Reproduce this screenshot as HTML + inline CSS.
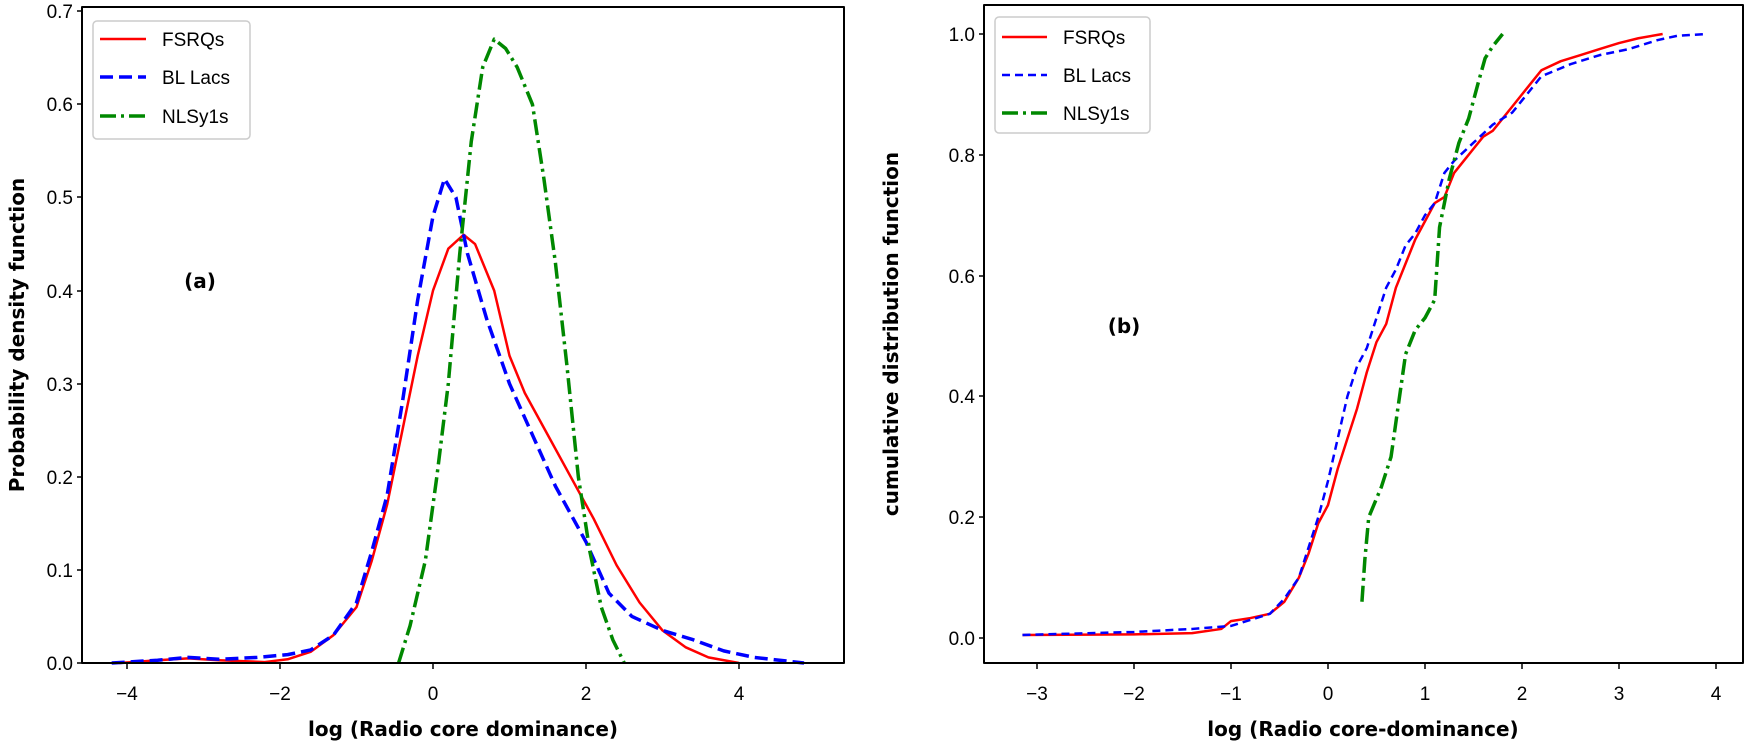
<!DOCTYPE html>
<html><head><style>
body{margin:0;background:#fff;}
svg{display:block;font-family:"Liberation Sans","DejaVu Sans",sans-serif;}
.t{font-size:19px;fill:#000;}
.b{font-size:20px;font-weight:bold;fill:#000;font-family:"DejaVu Sans","Liberation Sans",sans-serif;}
</style></head><body>
<svg width="1748" height="746" viewBox="0 0 1748 746" xmlns="http://www.w3.org/2000/svg">
<rect width="1748" height="746" fill="#fff"/>
<!-- LEFT PLOT -->
<g fill="none" stroke-linejoin="round">
 <g transform="translate(433,663) scale(76.5,-931)">
  <polyline vector-effect="non-scaling-stroke" stroke="#f00" stroke-width="2.5" points="-4.1,0 -3.6,0.003 -3.2,0.005 -2.8,0.003 -2.2,0.001 -1.9,0.004 -1.6,0.012 -1.3,0.03 -1,0.06 -0.8,0.11 -0.6,0.17 -0.4,0.25 -0.2,0.33 0,0.4 0.2,0.445 0.4,0.46 0.55,0.45 0.8,0.4 1.0,0.33 1.2,0.29 1.5,0.245 1.8,0.2 2.1,0.155 2.4,0.105 2.7,0.065 3.0,0.035 3.3,0.017 3.6,0.006 4.0,0"/>
  <polyline vector-effect="non-scaling-stroke" stroke="#00f" stroke-width="3.5" stroke-dasharray="13,6" points="-4.2,0 -3.6,0.003 -3.2,0.006 -2.8,0.004 -2.3,0.006 -1.9,0.009 -1.6,0.014 -1.3,0.03 -1,0.065 -0.8,0.12 -0.6,0.18 -0.4,0.28 -0.2,0.39 0,0.48 0.15,0.52 0.3,0.5 0.45,0.44 0.7,0.37 1.0,0.3 1.3,0.245 1.6,0.19 2.0,0.13 2.3,0.075 2.6,0.05 3.0,0.035 3.4,0.025 3.8,0.013 4.2,0.006 4.85,0"/>
  <polyline vector-effect="non-scaling-stroke" stroke="#080" stroke-width="3.5" stroke-dasharray="16,5,3,5" points="-0.45,0 -0.3,0.04 -0.1,0.11 0.05,0.2 0.2,0.3 0.35,0.44 0.5,0.56 0.65,0.64 0.8,0.67 0.95,0.66 1.1,0.64 1.3,0.6 1.45,0.52 1.6,0.43 1.75,0.32 1.9,0.2 2.05,0.12 2.2,0.06 2.35,0.025 2.5,0"/>
 </g>
 <rect x="82" y="7" width="762" height="656" stroke="#000" stroke-width="2"/>
 <rect x="93" y="21" width="157" height="118" rx="4" fill="#fff" stroke="#ccc" stroke-width="1.5"/>
 <line x1="100" y1="39" x2="146" y2="39" stroke="#f00" stroke-width="2.5"/>
 <line x1="100" y1="77" x2="146" y2="77" stroke="#00f" stroke-width="3.5" stroke-dasharray="13,6"/>
 <line x1="100" y1="116" x2="146" y2="116" stroke="#080" stroke-width="3.5" stroke-dasharray="16,5,3,5"/>
 <g stroke="#000" stroke-width="1.5">
  <line x1="77" y1="663" x2="82" y2="663"/><line x1="77" y1="570" x2="82" y2="570"/><line x1="77" y1="477" x2="82" y2="477"/><line x1="77" y1="384" x2="82" y2="384"/><line x1="77" y1="291" x2="82" y2="291"/><line x1="77" y1="197" x2="82" y2="197"/><line x1="77" y1="104" x2="82" y2="104"/><line x1="77" y1="11" x2="82" y2="11"/>
  <line x1="127" y1="663" x2="127" y2="669"/><line x1="280" y1="663" x2="280" y2="669"/><line x1="433" y1="663" x2="433" y2="669"/><line x1="586" y1="663" x2="586" y2="669"/><line x1="739" y1="663" x2="739" y2="669"/>
 </g>
</g>
<g class="t" text-anchor="end">
 <text x="73" y="670">0.0</text><text x="73" y="577">0.1</text><text x="73" y="484">0.2</text><text x="73" y="391">0.3</text><text x="73" y="298">0.4</text><text x="73" y="204">0.5</text><text x="73" y="111">0.6</text><text x="73" y="18">0.7</text>
</g>
<g class="t" text-anchor="middle">
 <text x="127" y="700">−4</text><text x="280" y="700">−2</text><text x="433" y="700">0</text><text x="586" y="700">2</text><text x="739" y="700">4</text>
</g>
<g class="t"><text x="162" y="46">FSRQs</text><text x="162" y="84">BL Lacs</text><text x="162" y="123">NLSy1s</text></g>
<text class="b" x="463" y="736" text-anchor="middle">log (Radio core dominance)</text>
<text class="b" transform="translate(24,335) rotate(-90)" text-anchor="middle">Probability density function</text>
<text class="b" x="200" y="288" text-anchor="middle">(a)</text>

<!-- RIGHT PLOT -->
<g fill="none" stroke-linejoin="round">
 <g transform="translate(1328,638) scale(97,-604)">
  <polyline vector-effect="non-scaling-stroke" stroke="#f00" stroke-width="2.5" points="-3.15,0.005 -2,0.006 -1.4,0.008 -1.1,0.015 -1,0.028 -0.8,0.033 -0.6,0.04 -0.45,0.06 -0.3,0.1 -0.2,0.14 -0.1,0.19 0,0.22 0.1,0.28 0.2,0.33 0.3,0.38 0.4,0.44 0.5,0.49 0.6,0.52 0.7,0.58 0.8,0.62 0.9,0.66 1.0,0.69 1.1,0.72 1.2,0.73 1.3,0.77 1.4,0.79 1.5,0.81 1.6,0.83 1.7,0.84 1.8,0.86 1.9,0.88 2.0,0.9 2.1,0.92 2.2,0.94 2.4,0.955 2.6,0.965 2.8,0.975 3.0,0.985 3.2,0.993 3.45,1.0"/>
  <polyline vector-effect="non-scaling-stroke" stroke="#00f" stroke-width="2.5" stroke-dasharray="8,5" points="-3.15,0.005 -2,0.01 -1.4,0.015 -1,0.02 -0.8,0.03 -0.6,0.04 -0.45,0.065 -0.3,0.1 -0.2,0.15 -0.1,0.2 0,0.26 0.1,0.33 0.2,0.4 0.3,0.45 0.4,0.48 0.5,0.53 0.6,0.58 0.7,0.61 0.8,0.65 0.9,0.67 1.0,0.7 1.1,0.72 1.2,0.77 1.3,0.79 1.5,0.82 1.7,0.85 1.9,0.87 2.0,0.89 2.2,0.93 2.5,0.95 2.8,0.965 3.1,0.975 3.4,0.99 3.6,0.997 3.9,1.0"/>
  <polyline vector-effect="non-scaling-stroke" stroke="#080" stroke-width="3.5" stroke-dasharray="16,5,3,5" points="0.35,0.06 0.38,0.13 0.42,0.2 0.55,0.25 0.65,0.3 0.72,0.38 0.8,0.47 0.9,0.51 1.0,0.53 1.1,0.56 1.15,0.68 1.25,0.76 1.35,0.82 1.45,0.86 1.55,0.92 1.62,0.96 1.7,0.98 1.8,1.0"/>
 </g>
 <rect x="984" y="5" width="759" height="658" stroke="#000" stroke-width="2"/>
 <rect x="995" y="17" width="155" height="116" rx="4" fill="#fff" stroke="#ccc" stroke-width="1.5"/>
 <line x1="1002" y1="37" x2="1047" y2="37" stroke="#f00" stroke-width="2.5"/>
 <line x1="1002" y1="75" x2="1047" y2="75" stroke="#00f" stroke-width="2.5" stroke-dasharray="8,5"/>
 <line x1="1002" y1="113" x2="1047" y2="113" stroke="#080" stroke-width="3.5" stroke-dasharray="16,5,3,5"/>
 <g stroke="#000" stroke-width="1.5">
  <line x1="979" y1="638" x2="984" y2="638"/><line x1="979" y1="517" x2="984" y2="517"/><line x1="979" y1="396" x2="984" y2="396"/><line x1="979" y1="276" x2="984" y2="276"/><line x1="979" y1="155" x2="984" y2="155"/><line x1="979" y1="34" x2="984" y2="34"/>
  <line x1="1037" y1="663" x2="1037" y2="669"/><line x1="1134" y1="663" x2="1134" y2="669"/><line x1="1231" y1="663" x2="1231" y2="669"/><line x1="1328" y1="663" x2="1328" y2="669"/><line x1="1425" y1="663" x2="1425" y2="669"/><line x1="1522" y1="663" x2="1522" y2="669"/><line x1="1619" y1="663" x2="1619" y2="669"/><line x1="1716" y1="663" x2="1716" y2="669"/>
 </g>
</g>
<g class="t" text-anchor="end">
 <text x="975" y="645">0.0</text><text x="975" y="524">0.2</text><text x="975" y="403">0.4</text><text x="975" y="283">0.6</text><text x="975" y="162">0.8</text><text x="975" y="41">1.0</text>
</g>
<g class="t" text-anchor="middle">
 <text x="1037" y="700">−3</text><text x="1134" y="700">−2</text><text x="1231" y="700">−1</text><text x="1328" y="700">0</text><text x="1425" y="700">1</text><text x="1522" y="700">2</text><text x="1619" y="700">3</text><text x="1716" y="700">4</text>
</g>
<g class="t"><text x="1063" y="44">FSRQs</text><text x="1063" y="82">BL Lacs</text><text x="1063" y="120">NLSy1s</text></g>
<text class="b" x="1363" y="736" text-anchor="middle">log (Radio core-dominance)</text>
<text class="b" transform="translate(898,334) rotate(-90)" text-anchor="middle">cumulative distribution function</text>
<text class="b" x="1124" y="333" text-anchor="middle">(b)</text>
</svg>
</body></html>
